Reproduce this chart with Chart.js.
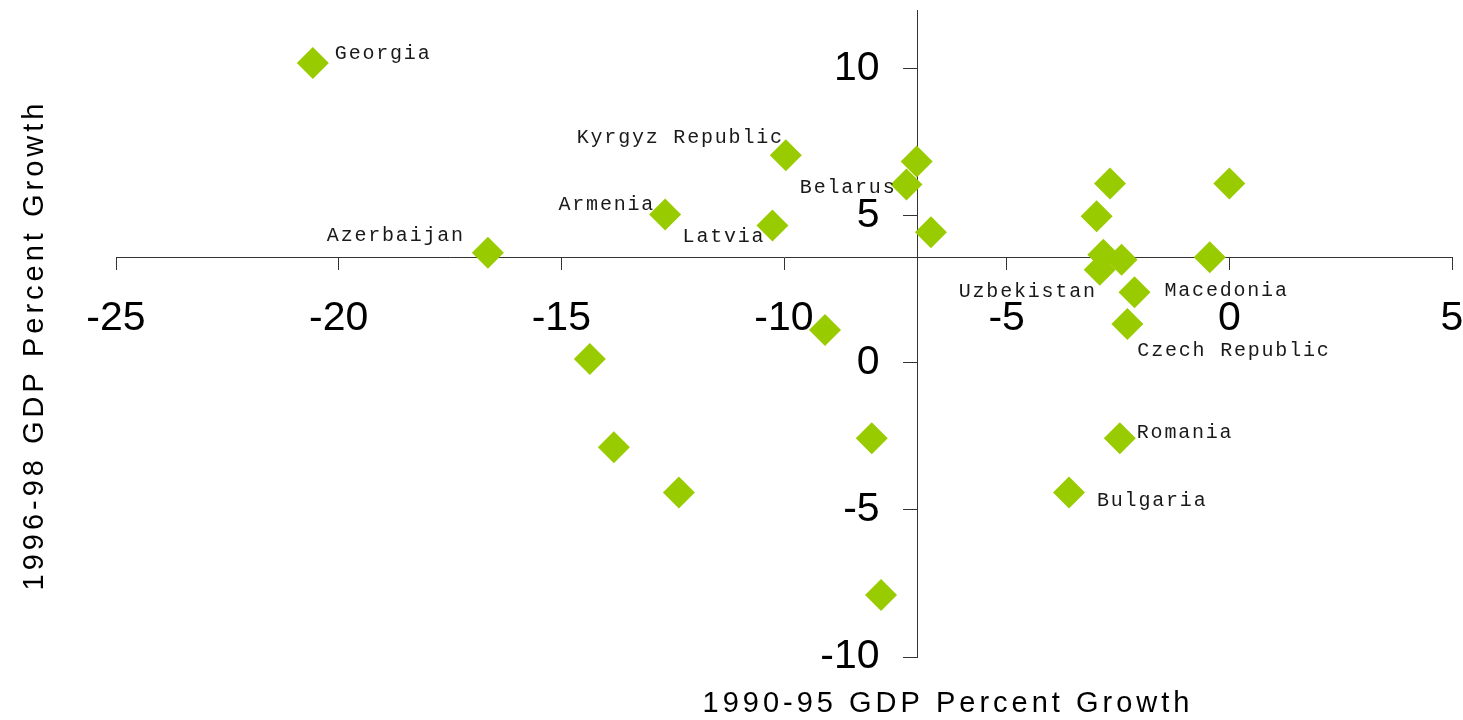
<!DOCTYPE html>
<html>
<head>
<meta charset="utf-8">
<script src="https://cdn.jsdelivr.net/npm/chart.js@4.4.1/dist/chart.umd.min.js"></script>
<style>
  html, body { margin: 0; padding: 0; background: #fff; }
  #wrap { width: 1463px; height: 720px; }
</style>
</head>
<body>
<div id="wrap"><canvas id="scatter" width="1463" height="720"></canvas></div>
<script>
// Country labels (blank = unlabelled point)
const countries = [
    'Georgia', 'Kyrgyz Republic', '', 'Belarus', '', '', 'Armenia', '', 'Latvia', '',
    'Azerbaijan', '', '', '', 'Uzbekistan', 'Macedonia', 'Czech Republic', '', '', '',
    '', 'Romania', '', 'Bulgaria', ''
];
// 1990-95 GDP percent growth (x)
const growth9095 = [
    -20.58, -9.96, -7.02, -7.25, -2.68, 0.0, -12.67, -2.98, -10.26, -6.70,
    -16.65, -2.83, -0.44, -2.42, -2.91, -2.13, -2.29, -9.08, -14.36, -13.82,
    -8.03, -2.46, -12.36, -3.60, -7.82
];
// 1996-98 GDP percent growth (y)
const growth9698 = [
    10.2, 7.06, 6.85, 6.07, 6.1, 6.1, 5.05, 4.99, 4.67, 4.44,
    3.75, 3.68, 3.59, 3.51, 3.17, 2.40, 1.32, 1.12, 0.13, -2.87,
    -2.56, -2.56, -4.41, -4.41, -7.89
];
const xTicks = [-25, -20, -15, -10, -5, 0, 5];
const yTicks = [-10, -5, 0, 5, 10];
// where the axes cross each other
const xAxisAtY = 3.6;
const yAxisAtX = -7;

// where each country name sits next to its marker: [align, dx, dy]
const labelPlacement = {
    'Georgia': ['left', 22, -9],
    'Kyrgyz Republic': ['right', -2, -18],
    'Belarus': ['right', -10, 3],
    'Armenia': ['right', -10, -10],
    'Latvia': ['right', -7, 11],
    'Azerbaijan': ['right', -23, -17],
    'Uzbekistan': ['right', -3, 22],
    'Macedonia': ['left', 30, -2],
    'Czech Republic': ['left', 10, 27],
    'Romania': ['left', 17, -5],
    'Bulgaria': ['left', 28, 8]
};

const points = growth9095.map((x, i) => ({ x: x, y: growth9698[i] }));
const tickFont = "41px 'Liberation Sans', Arial, sans-serif";

// country names drawn beside the markers
const countryLabels = {
    id: 'countryLabels',
    afterDatasetsDraw(chart) {
        const ctx = chart.ctx;
        const meta = chart.getDatasetMeta(0);
        ctx.save();
        ctx.font = "20px 'Liberation Mono', monospace";
        ctx.letterSpacing = '1.8px';
        ctx.fillStyle = '#1a1a1a';
        ctx.textBaseline = 'middle';
        countries.forEach((name, i) => {
            if (!name) return;
            const p = labelPlacement[name];
            const el = meta.data[i];
            ctx.textAlign = p[0];
            ctx.fillText(name, el.x + p[1], el.y + p[2]);
        });
        ctx.restore();
    }
};

// y tick labels: chart.js puts them flush on a value-positioned axis, so offset them here
const yTickLabels = {
    id: 'yTickLabels',
    afterDraw(chart) {
        const ctx = chart.ctx;
        const ys = chart.scales.y;
        const axisX = chart.scales.x.getPixelForValue(yAxisAtX);
        ctx.save();
        ctx.font = tickFont;
        ctx.fillStyle = '#000';
        ctx.textAlign = 'right';
        ctx.textBaseline = 'middle';
        ys.ticks.forEach(t => {
            ctx.fillText(String(t.value), axisX - 38, ys.getPixelForValue(t.value));
        });
        ctx.restore();
    }
};

// axis titles sit at the canvas edges, not next to the crossing axes
const axisTitles = {
    id: 'axisTitles',
    afterDraw(chart) {
        const ctx = chart.ctx;
        ctx.save();
        ctx.font = "29px 'Liberation Sans', Arial, sans-serif";
        ctx.letterSpacing = '4px';
        ctx.fillStyle = '#000';
        ctx.textAlign = 'center';
        ctx.textBaseline = 'middle';
        ctx.fillText('1990-95 GDP Percent Growth', 948, 704);
        ctx.translate(35, 345);
        ctx.rotate(-Math.PI / 2);
        ctx.fillText('1996-98 GDP Percent Growth', 0, 0);
        ctx.restore();
    }
};

// value-positioned axes should not push the plot area around
const noPad = s => { s.paddingTop = 0; s.paddingBottom = 0; s.paddingLeft = 0; s.paddingRight = 0; };

new Chart(document.getElementById('scatter').getContext('2d'), {
    type: 'scatter',
    data: {
        datasets: [{
            data: points,
            pointStyle: 'rectRot',
            pointRadius: 16,
            pointHoverRadius: 16,
            backgroundColor: '#99cc00',
            borderWidth: 0,
            clip: false
        }]
    },
    options: {
        responsive: false,
        animation: false,
        events: [],
        layout: { autoPadding: false, padding: { left: 116, right: 11, top: 10, bottom: 63 } },
        plugins: { legend: { display: false }, tooltip: { enabled: false } },
        scales: {
            x: {
                type: 'linear',
                position: { y: xAxisAtY },
                min: -25,
                max: 5,
                afterBuildTicks: s => { s.ticks = xTicks.map(v => ({ value: v })); },
                afterFit: noPad,
                grid: { drawOnChartArea: false, drawTicks: true, tickLength: 12, color: '#333' },
                border: { display: true, color: '#333', width: 1 },
                ticks: {
                    color: '#000',
                    font: { family: "'Liberation Sans', Arial, sans-serif", size: 41 },
                    padding: 25,
                    maxRotation: 0
                }
            },
            y: {
                type: 'linear',
                position: { x: yAxisAtX },
                min: -10,
                max: 12,
                afterBuildTicks: s => { s.ticks = yTicks.map(v => ({ value: v })); },
                afterFit: noPad,
                grid: { drawOnChartArea: false, drawTicks: true, tickLength: 14, color: '#333' },
                border: { display: true, color: '#333', width: 1 },
                ticks: { display: false }
            }
        }
    },
    plugins: [countryLabels, yTickLabels, axisTitles]
});
</script>
</body>
</html>
